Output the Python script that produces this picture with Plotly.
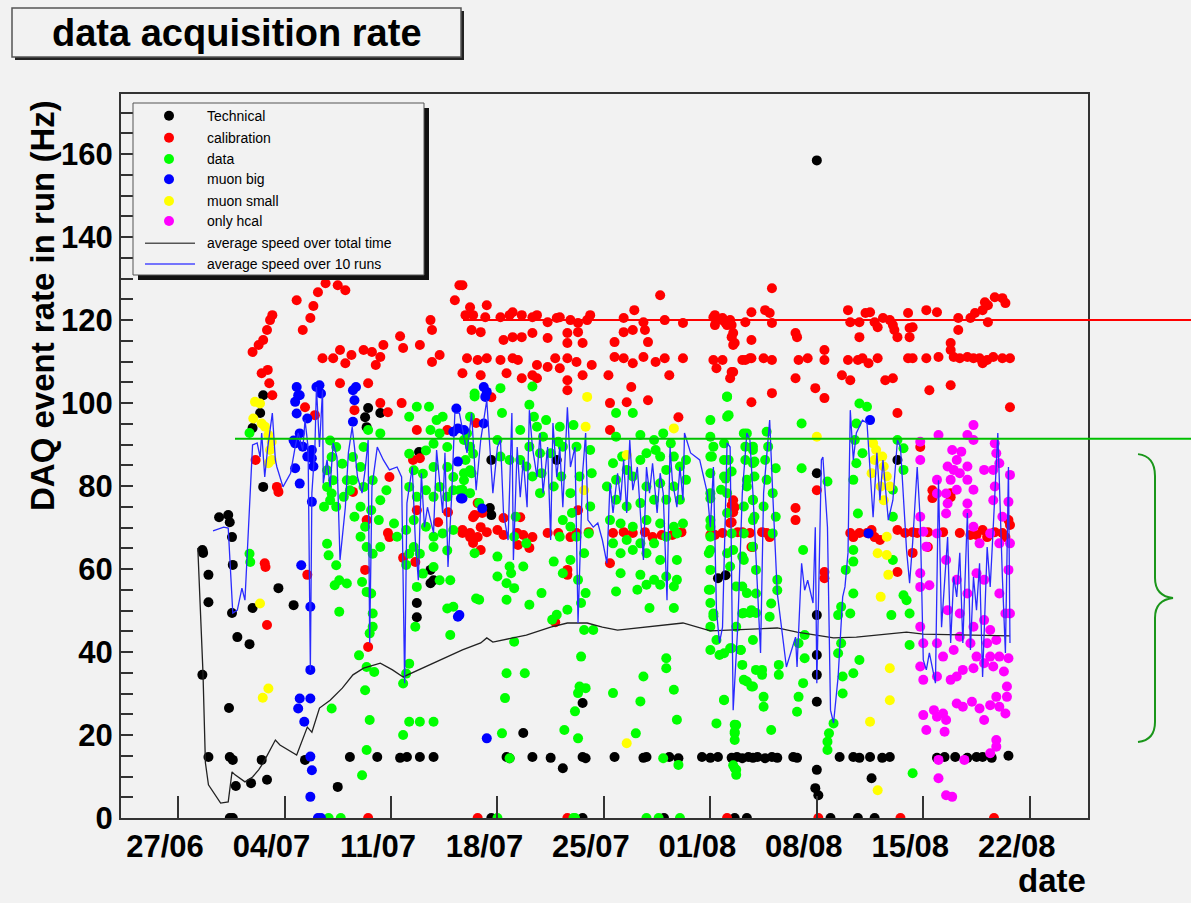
import pandas as pd
import plotly.graph_objects as go

START = pd.Timestamp("2006-06-27")
TICK_LABELS = ["27/06", "04/07", "11/07", "18/07", "25/07", "01/08", "08/08", "15/08", "22/08"]
TICK_DAYS = [0, 7, 14, 21, 28, 35, 42, 49, 56]

# (days since 27/06, event rate in Hz)
TECHNICAL = [
    (1.6, 64.6), (1.65, 63.9), (2.0, 58.6), (2.0, 52.0), (1.6, 34.5), (2.0, 14.7), (3.4, 0), (3.6, 0),
    (2.7, 72.5), (3.3, 73.0), (3.4, 71.3), (3.55, 67.7), (3.6, 61.0), (3.55, 49.4), (3.9, 43.6),
    (4.7, 41.9), (4.9, 50.6), (3.35, 26.5), (3.4, 14.7), (3.6, 14.0), (3.8, 7.7), (4.8, 8.4),
    (5.5, 14.0), (5.85, 9.2), (5.6, 79.8), (5.4, 97.6), (5.6, 101.9), (4.9, 94.0), (6.6, 55.4),
    (7.6, 51.3), (8.35, 14.0), (10.5, 7.5), (11.3, 14.7), (13.1, 14.7), (14.6, 14.5), (15.05, 14.7),
    (15.9, 14.7), (16.8, 14.7), (12.5, 98.8), (12.4, 94.2), (13.3, 97.6), (12.3, 96.6), (15.7, 51.8),
    (15.7, 48.4), (16.6, 59.8), (16.8, 57.3), (16.6, 56.6), (15.85, 88.2),
    (20.6, 0), (26.6, 0), (31.95, 0), (36.6, 0), (37.4, 0), (42.9, 0), (44.7, 0), (45.8, 0),
    (21.6, 14.7), (21.8, 14.4), (23.3, 14.7), (24.5, 14.5), (26.6, 14.7), (26.8, 14.4), (28.7, 14.7),
    (30.6, 14.5), (30.8, 14.7), (32.3, 14.7), (32.9, 14.4), (34.45, 14.7), (35.0, 14.5), (35.5, 14.7),
    (36.4, 14.5), (36.75, 14.7), (37.1, 14.4), (37.5, 14.7), (37.8, 14.5), (38.1, 14.7), (38.6, 14.4),
    (39.05, 14.7), (39.4, 14.5), (40.45, 14.7), (40.7, 14.5), (43.5, 14.7), (44.4, 14.7), (44.8, 14.5),
    (45.5, 14.7), (46.3, 14.5), (46.8, 14.7), (49.9, 14.5), (50.4, 14.7), (51.1, 14.7), (51.9, 14.5),
    (52.5, 14.7), (52.9, 14.7), (53.5, 14.5), (54.6, 15.0),
    (25.3, 12.0), (20.6, 86.3), (20.6, 73.0), (20.5, 74.7), (24.9, 86.3), (26.6, 27.7), (22.7, 20.5),
    (35.5, 57.8), (36.0, 58.5), (42.0, 11.6), (42.0, 83.1), (42.0, 48.9), (42.0, 39.3), (42.0, 34.5),
    (42.0, 28.0), (47.3, 86.3), (45.6, 9.6), (42.0, 158.5), (41.9, 7.2), (42.1, 5.5),
]

CALIBRATION = [
    (6.0, 104.8), (6.2, 101.9), (5.1, 86.3), (6.5, 79.8), (6.6, 78.6), (5.7, 61.4), (5.75, 60.5),
    (5.85, 46.5), (8.5, 58.6), (8.35, 99.0), (9.0, 97.1), (10.65, 104.8), (12.5, 104.8), (13.3, 100.0),
    (13.8, 97.8), (14.7, 100.0), (11.5, 78.6), (11.6, 98.3), (12.4, 71.8), (12.3, 59.8), (12.5, 41.2),
    (13.9, 82.2), (13.8, 68.7), (13.9, 67.7), (14.8, 62.7), (15.7, 93.5), (15.45, 86.3), (15.7, 74.2),
    (15.6, 61.7), (15.9, 86.7), (17.1, 71.3), (17.75, 73.7), (17.7, 93.5), (18.7, 68.7), (19.2, 67.7),
    (19.4, 66.3), (19.5, 73.0), (19.6, 95.2), (19.7, 75.9),
    (4.9, 112.3), (5.3, 114.0), (5.6, 115.2), (5.85, 117.6), (6.05, 120.0), (6.2, 121.2), (5.5, 107.2),
    (5.9, 108.0), (7.8, 124.8), (8.2, 117.6), (8.7, 120.5), (8.9, 123.4), (9.2, 126.7), (9.7, 128.9),
    (10.5, 128.4), (11.0, 127.2), (9.5, 110.8), (10.2, 110.8), (10.65, 112.8), (11.0, 109.6),
    (11.4, 111.6), (12.2, 112.8), (12.75, 112.3), (13.3, 111.1), (13.5, 114.0), (13.0, 109.2),
    (14.6, 116.1), (14.8, 113.3), (16.6, 120.0), (16.7, 117.6), (18.2, 124.8), (18.5, 128.4),
    (17.2, 111.6), (16.7, 109.9), (15.9, 114.0),
    (18.9, 121.2), (19.4, 121.2), (20.2, 120.7), (21.2, 120.7), (21.8, 121.2), (22.0, 121.9),
    (22.6, 121.2), (23.3, 120.7), (23.6, 121.2), (24.3, 119.5), (24.9, 120.5), (25.1, 120.7),
    (25.8, 120.0), (26.3, 119.3), (26.9, 120.0), (27.1, 121.2), (29.3, 120.5), (30.0, 122.4),
    (30.6, 119.5), (31.7, 126.0), (32.0, 120.0), (33.2, 119.3), (35.2, 120.7), (35.8, 120.5),
    (36.1, 118.8), (36.3, 120.0), (37.3, 119.5), (37.7, 121.9), (18.7, 128.4), (19.2, 123.1), (20.3, 123.6),
    (19.3, 117.6), (19.9, 117.1), (21.4, 115.2), (22.0, 115.9), (22.6, 115.9), (23.3, 116.9),
    (24.3, 115.7), (25.6, 116.9), (26.3, 117.1), (25.6, 114.5), (26.6, 114.5), (28.7, 114.7),
    (29.3, 117.1), (29.9, 117.6), (30.9, 114.7), (30.7, 117.6), (36.5, 116.9), (36.6, 114.5), (37.7, 115.2),
    (19.0, 110.8), (19.7, 110.4), (20.3, 110.8), (21.2, 110.4), (22.0, 110.8), (22.35, 110.4),
    (23.6, 109.2), (24.3, 108.7), (24.8, 110.8), (25.1, 108.4), (25.6, 110.8), (26.2, 109.9),
    (27.2, 109.2), (28.7, 111.1), (29.3, 110.8), (29.9, 109.6), (30.6, 111.1), (31.4, 109.9),
    (32.0, 110.8), (33.2, 110.8), (35.2, 110.4), (35.8, 110.4), (35.4, 108.4), (37.3, 110.4), (37.7, 110.8),
    (18.7, 107.2), (19.9, 106.7), (21.6, 107.2), (22.6, 106.0), (23.3, 106.7), (23.6, 106.0),
    (25.6, 105.5), (25.6, 103.1), (26.6, 106.7), (28.3, 106.7), (29.8, 103.9), (32.3, 106.7),
    (36.3, 106.0), (36.5, 107.5),
    (28.4, 100.0), (29.5, 100.2), (30.9, 100.7), (32.9, 96.6), (37.7, 100.2), (20.6, 101.4), (28.4, 93.5),
    (18.7, 69.4), (19.2, 68.7), (19.7, 67.7), (19.9, 70.1), (20.3, 68.9), (21.0, 69.4), (21.4, 68.2),
    (22.3, 68.7), (22.7, 68.2), (23.3, 67.7), (24.3, 68.7), (25.0, 68.7), (25.8, 67.7), (26.2, 68.7),
    (27.0, 68.9), (28.6, 68.7), (29.3, 68.9), (29.9, 68.7), (30.7, 68.9), (31.2, 67.7), (31.8, 68.2),
    (32.5, 68.2), (33.1, 68.9), (35.3, 68.2), (35.8, 68.7), (36.4, 75.4), (36.5, 73.7), (36.4, 71.3),
    (36.8, 68.9), (37.6, 68.7), (37.8, 65.3), (19.4, 72.5), (20.0, 73.5), (21.4, 72.3), (22.5, 72.5),
    (19.9, 64.6), (22.35, 65.8), (23.1, 65.1), (25.6, 59.8), (25.6, 58.6), (28.4, 61.4), (26.3, 74.2),
    (24.8, 47.2),
    (39.05, 127.7), (35.3, 121.2), (35.8, 120.0), (35.3, 118.8), (36.0, 119.3), (36.4, 118.8),
    (38.6, 122.4), (38.9, 121.7), (39.05, 119.3), (44.05, 122.4), (44.2, 119.5), (44.8, 119.5),
    (45.2, 121.7), (45.5, 121.9), (45.8, 119.5), (46.0, 118.3), (46.35, 120.5), (46.8, 120.0),
    (47.0, 118.8), (47.1, 117.6), (48.0, 121.7), (48.3, 118.3), (49.2, 122.4), (49.9, 121.9),
    (51.3, 120.5), (52.1, 120.5), (52.4, 121.7), (52.9, 122.4), (53.25, 123.6), (53.05, 124.3),
    (53.7, 125.5), (54.2, 125.3), (54.4, 124.1), (53.25, 119.5),
    (36.4, 115.9), (36.5, 114.0), (40.6, 116.9), (40.7, 115.9), (44.8, 115.9), (47.3, 115.9),
    (48.1, 115.9), (50.8, 114.5), (51.3, 117.6), (48.1, 118.1),
    (37.1, 110.4), (37.6, 110.8), (38.5, 110.8), (39.05, 110.4), (40.8, 110.4), (41.4, 110.8),
    (42.5, 112.8), (42.5, 110.4), (44.05, 110.4), (44.7, 110.4), (45.0, 110.8), (45.4, 109.6),
    (46.0, 110.8), (48.0, 110.8), (48.3, 110.8), (49.2, 110.8), (50.0, 111.1), (50.8, 112.8),
    (51.0, 111.1), (51.4, 110.8), (51.9, 111.1), (52.3, 110.8), (52.7, 110.8), (53.2, 110.4),
    (53.6, 111.1), (54.2, 110.8), (54.7, 110.8), (52.9, 109.6),
    (36.4, 107.5), (40.6, 106.0), (41.9, 103.6), (42.5, 101.2), (43.65, 106.7), (44.2, 105.5),
    (46.5, 105.5), (47.0, 106.0), (49.4, 103.1), (50.8, 104.3), (39.05, 102.4),
    (47.3, 97.6), (54.7, 99.0),
    (35.0, 68.2), (36.5, 76.6), (36.6, 74.9), (37.1, 68.9), (38.4, 68.9), (38.7, 68.7), (38.9, 67.7),
    (44.2, 68.7), (44.4, 67.7), (44.8, 68.7), (45.3, 68.7), (45.6, 69.4), (45.8, 67.7), (46.15, 67.0),
    (47.3, 69.4), (47.8, 68.7), (48.3, 68.9), (48.6, 68.7), (49.3, 68.9), (49.6, 79.0), (49.6, 77.1),
    (50.8, 78.3), (50.8, 77.3), (50.3, 68.9), (51.4, 68.7), (52.1, 68.2), (52.5, 68.2), (52.9, 69.4),
    (53.2, 67.7), (53.7, 68.9), (54.2, 68.7), (54.6, 71.8), (54.7, 70.6), (54.4, 67.7), (36.3, 71.1),
    (37.7, 65.3), (40.6, 74.7), (40.6, 71.8), (42.0, 79.0), (42.5, 59.3), (42.5, 57.8), (47.3, 59.3),
    (48.3, 63.9), (48.8, 89.4), (49.3, 65.3),
    (12.5, 0), (19.7, 0), (25.6, 0), (36.1, 0), (42.1, 0), (47.5, 0), (53.65, 0),
]

DATA = [
    (4.7, 92.8), (4.7, 63.7), (4.75, 61.7),
    (10.0, 91.0), (10.4, 89.4), (10.1, 87.0), (9.8, 83.8), (10.2, 81.4), (9.8, 79.8), (10.1, 78.2),
    (9.6, 75.0), (10.0, 76.6), (10.4, 75.0), (10.9, 77.4), (11.1, 81.4), (10.8, 85.4), (11.5, 87.0),
    (12.0, 84.6), (11.5, 81.4), (11.3, 79.0), (12.2, 79.8), (12.0, 75.0), (11.6, 72.6), (12.3, 70.2),
    (12.0, 67.8), (12.4, 65.3), (12.8, 63.7), (13.3, 65.3), (13.2, 71.8), (12.7, 74.2), (13.3, 76.6),
    (13.7, 79.0), (12.8, 81.4), (12.2, 89.4), (12.5, 93.5), (13.3, 92.7), (15.2, 96.7), (15.7, 99.1),
    (16.5, 99.1), (16.6, 93.5), (17.0, 95.9), (17.4, 96.7), (17.2, 92.7), (16.8, 90.2), (17.7, 89.4),
    (16.3, 88.6), (15.2, 87.8), (15.5, 83.8), (16.1, 83.0), (16.8, 84.6), (17.7, 84.6), (18.1, 82.2),
    (18.8, 81.4), (19.2, 83.8), (19.4, 87.8), (19.0, 92.7), (19.2, 96.7), (19.5, 102.3), (15.2, 79.8),
    (15.7, 77.4), (16.3, 79.0), (16.8, 77.4), (17.2, 79.8), (17.7, 77.4), (18.1, 79.0), (18.5, 79.0),
    (15.5, 71.8), (16.3, 70.2), (16.8, 67.8), (17.4, 68.6), (18.1, 69.4), (15.0, 69.4), (15.5, 65.3),
    (15.9, 63.7), (16.8, 65.3), (17.7, 64.5), (16.8, 60.5), (17.2, 57.3), (17.9, 57.3), (16.1, 58.9),
    (15.2, 63.7), (14.4, 67.8), (14.2, 71.0),
    (9.8, 66.1), (9.9, 63.3), (10.4, 60.9), (10.6, 57.3), (11.1, 56.5), (10.3, 56.1), (12.1, 56.9),
    (12.4, 54.5), (12.7, 54.1), (12.8, 49.3), (12.8, 46.1), (12.6, 44.5), (11.9, 39.2), (12.4, 36.4),
    (12.9, 35.2), (12.3, 30.8), (10.1, 26.4), (10.6, 49.7), (12.6, 23.6), (12.4, 16.4), (12.1, 10.3),
    (14.8, 32.4), (15.2, 23.2), (14.8, 20.0), (15.9, 23.2), (16.8, 23.2), (15.6, 46.1), (17.7, 50.5),
    (18.1, 50.9), (17.9, 44.1), (19.6, 52.9), (15.7, 55.7), (15.0, 61.0), (15.2, 37.2), (15.0, 34.8),
    (21.2, 103.6), (23.3, 104.0), (19.5, 101.6), (21.3, 97.6), (23.1, 99.6), (23.4, 96.7), (22.5, 93.5),
    (23.6, 94.3), (24.2, 95.9), (25.1, 94.3), (26.0, 94.7), (24.0, 91.9), (25.0, 90.7), (18.8, 91.1),
    (19.2, 89.5), (18.9, 86.3), (18.8, 83.1), (19.3, 83.1), (18.7, 79.1), (19.2, 78.3), (19.8, 75.9),
    (21.0, 91.1), (21.2, 87.1), (21.8, 86.3), (22.5, 86.3), (23.1, 89.5), (22.9, 84.7), (23.8, 87.9),
    (24.5, 87.9), (25.3, 89.5), (26.2, 89.5), (27.1, 88.7), (23.3, 82.3), (23.9, 83.1), (23.8, 78.3),
    (24.7, 79.9), (25.2, 82.3), (25.8, 78.3), (26.4, 82.3), (27.2, 83.1), (27.1, 75.1), (25.9, 73.5),
    (25.3, 71.8), (25.8, 70.2), (25.1, 67.8), (26.2, 67.8), (27.0, 68.6), (26.7, 63.8), (25.8, 62.2),
    (24.7, 61.8), (25.3, 59.0), (26.3, 57.4), (26.8, 54.2), (22.2, 72.6), (22.1, 67.8), (22.9, 66.2),
    (19.5, 63.8), (21.0, 63.0), (21.8, 60.6), (22.7, 60.6), (21.9, 59.0), (21.0, 58.2), (21.6, 56.6),
    (22.1, 55.4), (23.9, 54.2), (19.8, 52.6), (21.6, 52.6), (23.1, 51.4), (25.6, 50.2), (24.9, 49.0),
    (24.6, 47.8), (26.5, 51.8), (26.7, 45.3), (27.3, 45.3), (26.5, 38.9), (26.4, 31.7), (26.8, 31.3),
    (26.3, 30.1), (26.1, 25.7), (25.4, 21.2), (26.3, 19.2), (22.1, 42.5), (21.6, 34.9), (22.8, 34.9),
    (21.5, 28.9), (21.3, 20.4), (21.8, 14.4),
    (28.8, 97.6), (29.9, 97.6), (35.0, 95.9), (36.1, 96.7), (36.1, 101.6), (28.8, 91.9), (30.4, 92.3),
    (31.3, 91.1), (31.9, 92.7), (32.4, 90.3), (28.6, 85.5), (29.2, 87.1), (29.5, 83.9), (30.4, 86.3),
    (30.8, 87.9), (31.4, 88.7), (31.7, 87.1), (32.6, 87.1), (32.1, 83.9), (33.0, 84.7), (33.4, 86.3),
    (28.2, 79.9), (28.8, 81.5), (29.9, 82.3), (30.8, 79.9), (31.7, 80.7), (32.6, 79.9), (33.4, 81.5),
    (28.8, 76.7), (29.5, 75.1), (30.4, 75.9), (31.3, 76.7), (32.1, 76.7), (33.0, 76.7), (28.4, 71.8),
    (29.1, 71.0), (29.9, 70.2), (30.8, 71.8), (31.7, 71.0), (32.6, 70.2), (33.2, 71.0), (28.6, 66.2),
    (29.5, 67.0), (30.4, 66.2), (31.3, 66.2), (32.1, 67.8), (32.8, 68.6), (29.1, 63.8), (29.9, 64.6),
    (30.8, 63.8), (31.7, 62.2), (32.8, 62.2), (29.1, 59.0), (30.4, 58.6), (31.3, 57.4), (32.1, 58.2),
    (32.8, 57.4), (28.8, 54.6), (30.2, 55.0), (30.8, 56.2), (31.7, 56.2), (32.6, 55.8), (31.0, 50.6),
    (32.6, 50.6), (32.1, 38.5), (32.1, 36.1), (32.6, 30.9), (32.8, 23.7), (30.6, 34.1), (30.4, 28.1),
    (28.6, 30.1), (30.1, 20.4), (31.9, 14.4), (32.9, 12.8),
    (35.0, 87.1), (35.0, 83.1), (35.0, 78.3), (35.0, 71.8), (35.0, 67.8), (35.0, 64.6), (35.0, 59.8),
    (35.0, 55.0), (35.0, 51.8), (35.2, 48.6), (35.4, 42.9), (35.0, 40.5), (35.9, 39.7), (36.3, 40.9),
    (37.0, 40.5), (36.7, 46.1), (37.2, 49.4), (37.6, 49.4), (38.0, 49.4), (35.2, 89.5), (35.9, 86.3),
    (35.9, 82.3), (36.1, 78.3), (36.1, 73.5), (36.1, 63.8), (36.3, 60.6), (36.7, 55.8), (37.2, 62.2),
    (37.4, 54.2), (37.8, 42.9), (38.0, 35.7), (37.4, 32.9), (37.8, 31.7), (35.9, 28.5), (35.4, 22.8),
    (36.6, 22.5), (36.6, 20.8), (36.6, 18.8), (36.5, 12.7), (36.7, 11.6), (37.4, 92.7), (37.8, 89.5),
    (37.8, 85.5), (37.4, 81.5), (37.8, 76.7), (37.2, 75.1), (37.8, 71.8), (37.2, 68.6), (37.8, 65.4),
    (38.0, 59.8),
    (36.1, 101.5), (36.2, 97.1), (35.0, 91.9), (35.1, 87.1), (35.9, 90.3), (36.2, 86.3), (36.0, 81.8),
    (35.0, 77.0), (36.4, 83.5), (35.7, 79.1), (37.2, 92.7), (37.3, 89.5), (37.8, 88.7), (37.3, 86.3),
    (37.9, 85.9), (37.9, 82.3), (37.4, 79.9), (37.8, 76.6), (37.9, 72.6), (38.7, 93.1), (38.8, 89.5),
    (38.6, 86.3), (39.3, 84.3), (38.7, 81.5), (39.1, 78.3), (38.5, 75.1), (39.3, 72.6), (35.0, 70.2),
    (34.9, 63.8), (34.9, 55.0), (35.2, 49.3), (35.0, 46.1), (35.6, 39.3), (36.4, 68.6), (36.5, 64.6),
    (37.1, 63.0), (37.1, 55.8), (37.1, 49.3), (37.7, 50.1), (38.0, 54.1), (37.0, 40.5), (37.1, 36.9),
    (36.4, 40.9), (37.2, 33.3), (37.7, 31.7), (35.9, 28.4), (36.7, 22.4), (36.6, 20.4), (39.0, 21.2),
    (38.5, 26.8), (38.5, 29.2), (38.4, 34.5), (38.4, 35.7), (39.0, 51.7), (39.4, 57.4), (39.4, 54.9),
    (39.1, 68.6), (39.5, 36.9), (39.5, 34.5), (38.9, 48.5), (41.0, 95.1), (41.0, 84.3), (41.1, 64.6),
    (40.8, 42.1), (41.2, 44.1), (41.2, 38.5), (41.1, 32.5), (40.8, 29.2), (40.7, 25.6), (42.7, 81.1),
    (43.6, 50.9), (43.6, 42.1), (43.7, 34.1), (43.7, 30.0), (43.1, 22.8), (42.8, 20.4), (42.7, 18.4),
    (42.7, 16.4), (43.4, 48.9), (43.4, 39.7), (43.9, 59.8), (44.4, 61.8), (44.4, 54.1), (44.2, 49.3),
    (44.8, 38.1), (44.4, 34.9), (44.7, 73.4), (44.4, 81.5), (44.6, 85.5), (44.5, 91.1), (44.6, 95.1),
    (44.8, 99.9), (45.3, 99.1), (45.0, 87.9), (44.4, 64.6), (46.9, 48.9), (47.7, 53.7), (47.9, 52.5),
    (48.1, 49.3), (48.1, 41.7), (47.7, 89.1), (47.3, 91.1), (47.0, 79.1), (47.0, 72.6), (47.7, 83.9),
    (47.0, 62.2), (48.3, 10.8), (36.6, 12.0), (36.7, 10.4),
    (9.9, 0), (10.7, 0), (21.0, 0), (26.0, 0), (26.1, 0), (30.8, 0), (31.6, 0), (33.0, 0),
]

MUON_BIG = [
    (7.8, 103.9), (7.9, 101.9), (7.7, 100.3), (7.8, 97.5), (8.5, 96.3), (8.0, 92.7), (7.7, 90.3),
    (8.2, 89.5), (8.5, 87.1), (8.8, 88.7), (8.9, 84.7), (8.8, 86.7), (7.7, 84.3), (8.0, 80.6),
    (9.1, 103.9), (9.3, 104.3), (9.4, 102.3), (8.8, 76.2), (8.1, 60.9), (8.7, 50.9), (8.7, 35.7),
    (8.0, 28.8), (8.7, 28.8), (7.9, 26.4), (8.3, 23.2), (8.7, 14.8), (8.8, 11.5), (8.7, 5.1),
    (9.2, 0), (9.4, 0), (11.5, 103.1), (11.6, 100.7), (11.5, 95.5), (11.7, 103.9), (18.3, 98.7),
    (18.4, 93.9), (18.1, 93.1), (18.4, 85.9), (18.6, 77.0), (18.4, 48.5), (8.0, 101.9), (7.6, 91.0),
    (20.1, 103.9), (20.3, 102.7), (20.2, 101.5), (20.1, 95.1), (18.8, 93.5), (18.7, 77.0), (20.0, 74.6),
    (18.5, 48.9), (20.3, 19.2), (45.5, 95.9), (45.4, 68.6),
]

MUON_SMALL = [
    (5.06, 100.3), (5.39, 99.9), (4.95, 96.3), (5.5, 95.1), (5.72, 94.3), (5.94, 92.3), (6.16, 90.7),
    (6.05, 88.7), (6.16, 86.3), (5.94, 85.5), (5.39, 51.7), (5.94, 31.2), (5.57, 29.0),
    (26.9, 101.5), (26.8, 94.3), (29.5, 87.5), (32.6, 93.9), (26.7, 79.0), (29.5, 18.0),
    (42.0, 91.9), (45.7, 90.3), (45.9, 88.7), (46.3, 87.1), (46.4, 84.7), (46.6, 82.3), (46.2, 79.9),
    (46.4, 76.6), (46.6, 67.8), (46.0, 63.8), (46.6, 63.4), (46.7, 58.6), (46.2, 53.3), (46.8, 36.1),
    (46.8, 28.4), (45.5, 23.2), (45.8, 86.3), (45.6, 83.1), (46.8, 79.9), (46.0, 6.7),
]

ONLY_HCAL = [
    (48.8, 90.7), (48.8, 86.3), (50.0, 92.3), (50.9, 88.7), (51.2, 86.3), (51.5, 88.3), (50.6, 84.7),
    (51.0, 83.9), (51.4, 83.1), (51.9, 84.7), (50.8, 81.5), (51.2, 79.1), (51.9, 81.5), (52.3, 79.1),
    (49.9, 81.5), (49.9, 78.2), (50.5, 78.2), (51.9, 92.3), (52.3, 91.1), (52.3, 94.7), (53.0, 83.9),
    (53.6, 83.9), (53.7, 90.3), (53.8, 87.9), (54.0, 85.5), (54.7, 82.7), (54.6, 76.2), (53.7, 79.9),
    (53.6, 76.6), (54.2, 72.6), (48.8, 72.6), (49.0, 69.0), (49.2, 65.4), (49.9, 68.6), (48.8, 59.0),
    (48.8, 55.7), (49.4, 56.1), (50.5, 73.4), (50.6, 75.8), (51.9, 75.8), (51.9, 73.4), (52.3, 70.2),
    (52.7, 66.2), (53.4, 68.6), (54.0, 66.2), (54.7, 66.2), (54.6, 59.8), (52.5, 59.0), (53.0, 57.4),
    (50.5, 62.2), (51.2, 57.4), (51.9, 54.1), (50.6, 50.1), (51.4, 49.3), (52.3, 46.1), (53.0, 47.7),
    (53.4, 45.3), (53.8, 42.9), (54.4, 49.3), (54.7, 49.3), (54.0, 54.1), (48.8, 46.1), (49.0, 42.1),
    (49.9, 42.1), (50.3, 38.9), (51.0, 40.5), (51.4, 43.7), (52.1, 42.1), (52.5, 38.9), (53.2, 42.1),
    (53.4, 38.9), (54.0, 38.9), (54.6, 38.5), (48.8, 36.5), (49.0, 33.3), (49.9, 34.1), (50.8, 33.3),
    (51.2, 34.1), (51.6, 35.7), (52.3, 36.1), (53.0, 37.3), (53.6, 36.5), (54.3, 35.3), (54.5, 31.7),
    (49.0, 24.8), (49.7, 26.0), (50.3, 25.2), (51.2, 27.6), (51.6, 26.8), (52.2, 28.0), (52.7, 26.4),
    (53.0, 23.6), (53.4, 27.2), (53.8, 29.2), (54.0, 26.8), (54.5, 29.2), (54.4, 25.2), (49.2, 21.2),
    (49.9, 24.4), (50.5, 23.6), (50.4, 20.8), (53.8, 18.8), (53.8, 17.2), (50.0, 14.0), (50.0, 9.6),
    (51.7, 14.0), (53.4, 15.6), (50.5, 5.5), (50.9, 5.1),
]

AVG_TOTAL = [
    (1.3, 65.1), (1.64, 35.0), (1.8, 13.3), (2.0, 8.0), (2.8, 3.6), (3.3, 3.9), (3.55, 11.1),
    (3.75, 10.4), (4.4, 8.7), (4.9, 9.9), (5.3, 11.6), (5.6, 13.3), (6.4, 18.8), (6.7, 17.6),
    (7.8, 15.2), (8.5, 21.9), (8.8, 20.7), (9.3, 26.5), (10.0, 28.4), (10.8, 31.3), (11.5, 34.5),
    (12.2, 36.1), (13.3, 37.3), (14.1, 35.7), (14.8, 34.0), (15.5, 35.2), (17.2, 38.1), (18.7, 40.5),
    (19.9, 42.2), (20.3, 43.4), (20.7, 42.4), (22.9, 44.1), (24.5, 46.0), (25.6, 47.0), (26.9, 47.0),
    (27.9, 46.0), (28.9, 45.3), (30.8, 46.0), (33.2, 47.0), (35.0, 45.1), (38.3, 45.5), (39.4, 45.8),
    (40.7, 44.8), (43.1, 43.4), (44.6, 43.6), (47.9, 44.8), (49.0, 44.3), (54.7, 43.9),
]

AVG_10_RUNS = [
    (2.3, 69.2), (3.0, 70.1), (3.3, 69.9), (3.6, 49.4), (3.9, 50.1), (4.2, 55.4), (4.4, 52.5),
    (4.7, 74.9), (4.9, 89.9), (5.2, 90.4), (5.4, 87.0), (5.5, 92.8), (5.7, 82.2), (5.9, 89.4),
    (6.2, 97.6), (6.4, 86.3), (6.5, 84.6), (6.9, 79.8), (7.4, 83.1), (7.7, 89.4), (7.9, 92.8),
    (8.2, 88.7), (8.35, 95.9), (8.55, 89.4), (8.7, 35.7), (8.8, 78.3), (9.0, 89.4), (9.1, 103.9),
    (9.3, 89.4), (9.5, 103.1), (9.55, 80.7), (9.8, 86.3), (10.0, 79.8), (10.2, 90.4), (10.45, 87.0),
    (10.65, 62.2), (11.0, 74.9), (11.2, 88.0), (11.45, 94.2), (11.6, 89.4), (11.8, 82.2), (12.1, 78.3),
    (12.3, 83.9), (12.5, 91.1), (12.6, 42.2), (12.75, 79.8), (13.1, 89.4), (13.5, 86.3), (13.9, 83.9),
    (14.4, 84.6), (14.7, 82.2), (14.9, 32.5), (15.05, 75.9), (15.4, 84.6), (15.6, 67.0), (15.8, 57.3),
    (16.0, 83.1), (16.2, 70.1), (16.4, 74.9), (16.8, 68.7), (17.0, 88.7), (17.4, 73.5), (17.55, 88.0),
    (17.75, 60.5), (18.0, 78.3), (18.2, 97.6),
    (18.5, 97.6), (19.0, 88.0), (19.3, 97.6), (19.6, 79.0), (19.9, 91.1), (20.3, 100.7), (20.5, 89.4),
    (20.7, 78.3), (21.0, 89.4), (21.2, 91.1), (21.4, 73.5), (21.7, 67.0), (21.95, 97.6), (22.05, 62.2),
    (22.3, 89.4), (22.5, 77.3), (22.7, 86.3), (22.95, 74.9), (23.1, 98.3), (23.3, 89.4), (23.6, 82.2),
    (23.8, 92.8), (24.0, 78.3), (24.3, 89.4), (24.5, 67.0), (24.65, 95.2), (24.9, 82.2), (25.1, 89.4),
    (25.3, 74.9), (25.6, 99.0), (25.8, 84.6), (26.1, 89.4), (26.3, 47.0), (26.6, 83.1), (26.8, 92.8),
    (26.95, 71.8), (27.3, 70.1), (27.6, 71.1), (27.9, 67.0), (28.2, 61.4), (28.4, 80.7), (28.6, 73.5),
    (28.9, 83.1), (29.1, 76.6), (29.3, 86.3), (29.5, 73.5), (29.7, 91.1), (29.9, 79.0), (30.2, 84.6),
    (30.4, 73.5), (30.6, 62.2), (30.8, 84.6), (31.0, 78.3), (31.2, 85.5), (31.5, 73.5), (31.7, 83.1),
    (31.9, 78.3), (32.15, 52.5), (32.35, 89.4), (32.5, 81.4), (32.8, 74.9), (33.0, 84.6), (33.2, 76.6),
    (33.3, 92.8),
    (33.7, 88.0), (34.3, 86.3), (34.8, 78.3), (35.0, 70.1), (35.2, 84.6), (35.4, 50.1), (35.6, 42.2),
    (35.8, 46.0), (36.1, 90.4), (36.3, 89.4), (36.5, 26.0), (36.8, 46.0), (37.1, 78.3), (37.4, 92.8),
    (37.6, 91.1), (37.8, 78.3), (38.3, 39.8), (38.5, 78.3), (38.7, 87.0), (38.9, 95.9), (39.1, 78.3),
    (39.4, 54.2), (40.0, 36.4), (40.6, 43.6), (40.7, 36.4), (41.0, 61.4), (41.2, 54.9), (41.4, 57.3),
    (41.75, 51.8), (41.9, 70.1), (42.0, 32.5), (42.3, 86.3), (42.4, 87.0), (42.7, 70.1), (42.9, 26.0),
    (43.1, 22.9), (43.4, 34.0), (43.7, 53.3), (43.85, 55.7), (44.05, 63.9), (44.2, 98.3), (44.4, 86.3),
    (44.6, 92.8), (45.0, 95.9), (45.3, 95.2), (45.5, 84.6), (45.7, 72.5), (45.95, 88.0), (46.15, 76.6),
    (46.35, 86.3), (46.7, 71.8), (47.0, 76.6), (47.3, 91.1), (47.5, 89.4), (47.9, 64.6), (48.1, 56.6),
    (48.3, 66.3), (48.6, 84.6), (48.8, 71.8), (49.0, 38.1), (49.2, 35.7), (49.4, 39.8), (49.8, 32.5),
    (50.0, 81.4), (50.2, 46.0), (50.6, 67.7), (50.8, 42.2), (51.0, 58.1), (51.2, 53.3), (51.4, 63.9),
    (51.6, 42.2), (51.9, 73.5), (52.1, 40.5), (52.3, 58.1), (52.5, 50.1), (52.7, 61.4), (52.9, 34.0),
    (53.2, 65.3), (53.4, 55.7), (53.6, 70.1), (53.9, 92.8), (54.2, 58.1), (54.4, 39.8), (54.6, 84.6),
    (54.7, 42.2),
]

CAL_LEVEL_HZ = 120.0      # red reference line
DATA_LEVEL_HZ = 91.4      # green reference line
BRACE_TOP_HZ, BRACE_MID_HZ, BRACE_BOTTOM_HZ = 87.7, 53.0, 18.3


def dates(days):
    return [START + pd.Timedelta(days=d) for d in days]


def split(pairs):
    xs = dates([p[0] for p in pairs])
    ys = [p[1] for p in pairs]
    return xs, ys


fig = go.Figure()
series = [
    ("Technical", TECHNICAL, "#000000"),
    ("calibration", CALIBRATION, "#ff0000"),
    ("data", DATA, "#00ff00"),
    ("muon big", MUON_BIG, "#0000ff"),
    ("muon small", MUON_SMALL, "#ffff00"),
    ("only hcal", ONLY_HCAL, "#ff00ff"),
]
for name, pts, col in series:
    x, y = split(pts)
    fig.add_trace(go.Scatter(x=x, y=y, mode="markers", name=name, showlegend=False,
                             marker=dict(size=10, color=col, line=dict(width=0))))

x, y = split(AVG_TOTAL)
fig.add_trace(go.Scatter(x=x, y=y, mode="lines", name="average speed over total time",
                         showlegend=False, line=dict(color="#222222", width=1.3)))
x, y = split(AVG_10_RUNS)
fig.add_trace(go.Scatter(x=x, y=y, mode="lines", name="average speed over 10 runs",
                         showlegend=False, line=dict(color="#2a2aff", width=1.3)))

# layout geometry (pixels)
W, H = 1191, 903
L, R, T, B = 121, 1088, 94, 818
PW, PH = R - L, B - T
BOLD = "Liberation Sans, Arial, sans-serif"


def px(xp):
    return (xp - L) / PW


def py(yp):
    return (B - yp) / PH


def hz(yp):
    return (B - yp) / 4.15


shapes = []
annotations = []

# title box
shapes.append(dict(type="rect", xref="paper", yref="paper", x0=px(15), x1=px(464), y0=py(60), y1=py(11),
                   fillcolor="#222222", line=dict(width=0), layer="above"))
shapes.append(dict(type="rect", xref="paper", yref="paper", x0=px(12), x1=px(461), y0=py(57), y1=py(8),
                   fillcolor="#f2f2f2", line=dict(color="#555555", width=1.5), layer="above"))
annotations.append(dict(text="data acquisition rate", xref="paper", yref="paper", x=px(237), y=py(33),
                        xanchor="center", yanchor="middle", showarrow=False,
                        font=dict(family=BOLD, size=38, color="black", weight="bold")))

# legend box
shapes.append(dict(type="rect", xref="paper", yref="paper", x0=px(138), x1=px(429), y0=py(280), y1=py(108),
                   fillcolor="#111111", line=dict(width=0), layer="above"))
shapes.append(dict(type="rect", xref="paper", yref="paper", x0=px(133), x1=px(424), y0=py(275), y1=py(103),
                   fillcolor="#f2f2f2", line=dict(color="#555555", width=1), layer="above"))
rows = [115.7, 137.7, 159.0, 179.3, 201.0, 221.0, 243.3, 264.0]
for (name, _, col), yr in zip(series, rows[:6]):
    shapes.append(dict(type="circle", xref="paper", yref="paper", xsizemode="pixel", ysizemode="pixel",
                       xanchor=px(169), yanchor=py(yr), x0=-5, x1=5, y0=-5, y1=5,
                       fillcolor=col, line=dict(width=0), layer="above"))
    annotations.append(dict(text=name, xref="paper", yref="paper", x=px(205), y=py(yr), xanchor="left",
                            yanchor="middle", showarrow=False,
                            font=dict(family=BOLD, size=14, color="black")))
for (name, col), yr in zip([("average speed over total time", "#555555"),
                            ("average speed over 10 runs", "#4a4aff")], rows[6:]):
    shapes.append(dict(type="line", xref="paper", yref="paper", x0=px(145), x1=px(195), y0=py(yr), y1=py(yr),
                       line=dict(color=col, width=1.5), layer="above"))
    annotations.append(dict(text=name, xref="paper", yref="paper", x=px(205), y=py(yr), xanchor="left",
                            yanchor="middle", showarrow=False,
                            font=dict(family=BOLD, size=14, color="black")))

# reference lines drawn over the chart, running out to the page edge
shapes.append(dict(type="line", xref="paper", yref="y", x0=px(463), x1=px(W), y0=CAL_LEVEL_HZ,
                   y1=CAL_LEVEL_HZ, line=dict(color="#ff0000", width=2), layer="above"))
shapes.append(dict(type="line", xref="paper", yref="y", x0=px(235), x1=px(W), y0=DATA_LEVEL_HZ,
                   y1=DATA_LEVEL_HZ, line=dict(color="#00c000", width=2), layer="above"))
# brace
bx0, bx1, bx2 = px(1138), px(1155), px(1173)
brace = (f"M {bx0},{BRACE_TOP_HZ} Q {bx1},{hz(456)} {bx1},{hz(476)} L {bx1},{hz(578)} "
         f"Q {bx1},{hz(596)} {bx2},{BRACE_MID_HZ} Q {bx1},{hz(600)} {bx1},{hz(618)} "
         f"L {bx1},{hz(722)} Q {bx1},{hz(740)} {bx0},{BRACE_BOTTOM_HZ}")
shapes.append(dict(type="path", xref="paper", yref="y", path=brace, line=dict(color="#1a961a", width=2),
                   layer="above"))

# y title and x title
annotations.append(dict(text="DAQ event rate in run (Hz)", xref="paper", yref="paper", x=px(42), y=py(306),
                        xanchor="center", yanchor="middle", textangle=-90, showarrow=False,
                        font=dict(family=BOLD, size=33, color="black", weight="bold")))
annotations.append(dict(text="date", xref="paper", yref="paper", x=1.0, y=py(881), xanchor="right",
                        yanchor="middle", showarrow=False,
                        font=dict(family=BOLD, size=33, color="black", weight="bold")))

fig.update_layout(
    width=W, height=H,
    margin=dict(l=L, r=W - R, t=T, b=H - B, pad=0),
    paper_bgcolor="#f2f2f2", plot_bgcolor="#f2f2f2",
    shapes=shapes, annotations=annotations,
    showlegend=False,
)
fig.update_xaxes(
    type="date",
    range=[START + pd.Timedelta(days=-3.75), START + pd.Timedelta(days=59.83)],
    tickvals=dates(TICK_DAYS), ticktext=TICK_LABELS,
    ticks="inside", ticklen=22, tickwidth=1.5, tickcolor="#333333",
    showline=True, linecolor="#333333", linewidth=2, mirror=True,
    showgrid=False, zeroline=False, ticklabelshift=-13,
    tickfont=dict(family=BOLD, size=31, color="black", weight="bold"),
)
fig.update_yaxes(
    range=[0, 174.5], tickvals=list(range(0, 161, 20)),
    ticks="inside", ticklen=12, tickwidth=1.5, tickcolor="#333333",
    minor=dict(dtick=5, ticks="inside", ticklen=12, tickwidth=1.5, tickcolor="#333333"),
    showline=True, linecolor="#333333", linewidth=2, mirror=True,
    showgrid=False, zeroline=False,
    tickfont=dict(family=BOLD, size=31, color="black", weight="bold"),
)

fig.write_html("out.html")
